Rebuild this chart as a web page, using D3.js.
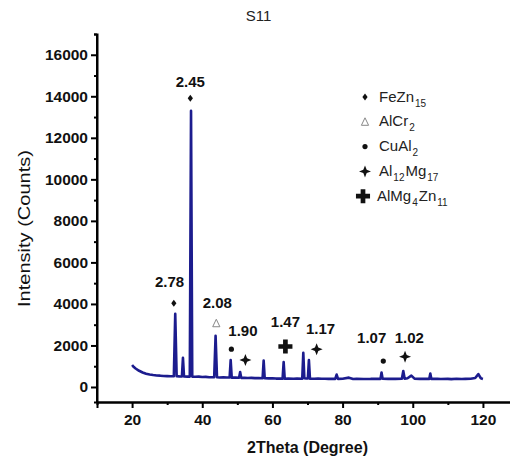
<!DOCTYPE html>
<html lang="en">
<head>
<meta charset="utf-8">
<title>S11</title>
<script src="https://cdn.jsdelivr.net/npm/d3@7"></script>
<style>
  body { margin: 0; background: #fff; }
  text { font-family: "Liberation Sans", Arial, sans-serif; }
</style>
</head>
<body>
<script type="text/javascript">

var width = 510;
var height = 459;

// diffraction pattern
var twoTheta = [20, 20.5, 21, 22, 23, 24, 25, 26, 27, 28, 29, 30, 31, 31.9, 32.3, 32.7,
  33.5, 34.2, 34.5, 34.8, 35.8, 36.45, 36.8, 37.15, 38, 39, 40, 41, 42, 43.4, 43.8, 44.2,
  45, 46, 47, 47.8, 48.1, 48.4, 49.5, 50.5, 50.8, 51.1, 52, 53, 54, 55, 56, 57.2, 57.5, 57.8,
  59, 60, 61, 62.9, 63.2, 63.5, 64.5, 66, 67, 68.5, 68.8, 69.1, 69.6, 70.1, 70.4, 70.7,
  72, 73, 74, 75, 76, 77.9, 78.3, 78.7, 80, 81.8, 83, 84, 86, 88, 89.5, 90.8, 91.1, 91.4,
  93, 94, 95, 96.9, 97.3, 97.7, 98.5, 99.6, 100.5, 102, 103.5, 104.7, 105, 105.3, 107, 108,
  110, 111, 112.5, 114, 115, 116.5, 117.8, 118.7, 119.4, 120];
var intensity = [1060, 960, 890, 780, 700, 640, 600, 575, 555, 545, 530, 525, 520, 520, 3520, 520,
  510, 505, 1410, 505, 500, 500, 13300, 500, 490, 500, 480, 485, 470, 470, 2470, 470,
  460, 470, 455, 455, 1300, 450, 450, 445, 720, 440, 445, 430, 440, 425, 430, 420, 1270, 420,
  415, 420, 405, 405, 1200, 400, 410, 400, 405, 400, 1650, 420, 410, 410, 1300, 400,
  400, 410, 395, 400, 390, 390, 600, 390, 395, 450, 385, 395, 385, 390, 400, 390, 700, 395,
  390, 400, 390, 395, 770, 400, 420, 550, 400, 390, 400, 390, 650, 390, 395, 385,
  390, 380, 395, 385, 390, 400, 430, 620, 420, 390];

var yTicks = [0, 2000, 4000, 6000, 8000, 10000, 12000, 14000, 16000];
var xTicks = [20, 40, 60, 80, 100, 120];

// peak labels (d-spacing) and phase marks
var peakLabels = ["2.45", "2.78", "2.08", "1.90", "1.47", "1.17", "1.07", "1.02"];
var labelX = [36.6, 30.7, 44.3, 51.6, 63.7, 73.7, 88.3, 99.0];
var labelY = [14450, 4820, 3790, 2460, 2880, 2570, 2100, 2100];

var markPhase = ["FeZn", "FeZn", "AlCr", "CuAl", "AlMg", "AlMg4", "AlMg", "CuAl", "AlMg"];
var markX = [36.6, 31.9, 44.0, 48.3, 52.3, 63.7, 72.6, 91.6, 97.8];
var markY = [13900, 4030, 3070, 1820, 1300, 1950, 1820, 1250, 1460];

var legendPhase = ["FeZn", "AlCr", "CuAl", "AlMg", "AlMg4"];
var legendName = [["FeZn", "15"], ["AlCr", "2"], ["CuAl", "2"], ["Al", "12", "Mg", "17"], ["AlMg", "4", "Zn", "11"]];

var svg = d3.select("body").append("svg")
            .attr("width", width)
            .attr("height", height);

var x = d3.scaleLinear().domain([10, 128]).range([97, 511]);
var y = d3.scaleLinear().domain([-723, 17000]).range([402, 34]);

// axes
var yAxis = svg.append("g")
  .attr("transform", "translate(" + x(10) + ",0)")
  .call(d3.axisLeft(y).tickValues(yTicks).tickSize(6).tickPadding(3).tickFormat(d3.format("d")));
svg.append("g")
  .attr("transform", "translate(" + x(10) + ",0)")
  .call(d3.axisLeft(y).tickValues(d3.range(1000, 17001, 2000)).tickSize(3).tickFormat(""));

var xAxis = svg.append("g")
  .attr("transform", "translate(0," + y(-723) + ")")
  .call(d3.axisBottom(x).tickValues(xTicks).tickSize(6).tickPadding(6));
svg.append("g")
  .attr("transform", "translate(0," + y(-723) + ")")
  .call(d3.axisBottom(x).tickValues([30, 50, 70, 90, 110]).tickSize(3).tickFormat(""));

svg.selectAll(".domain").attr("stroke", "#000").attr("stroke-width", 2);
svg.selectAll(".tick line").attr("stroke", "#000").attr("stroke-width", 2);
svg.selectAll(".tick text")
   .attr("font-family", "Liberation Sans, Arial, sans-serif")
   .attr("font-size", 15.5)
   .attr("font-weight", "bold")
   .attr("fill", "#111");
yAxis.select(".domain").attr("d", "M0," + y(17000) + "V" + y(-723));

// pattern
var line = d3.line()
  .x(function(d, i) { return x(twoTheta[i]); })
  .y(function(d) { return y(d); });

svg.append("path")
   .attr("d", line(intensity))
   .attr("fill", "none")
   .attr("stroke", "#1c1c8e")
   .attr("stroke-width", 2.6)
   .attr("stroke-linejoin", "round");

// symbols
function star4(r) {
  var k = r * 0.28;
  return "M0," + (-r) + "L" + k + "," + (-k) + "L" + r + ",0L" + k + "," + k +
         "L0," + r + "L" + (-k) + "," + k + "L" + (-r) + ",0L" + (-k) + "," + (-k) + "Z";
}
function drawMark(g, phase) {
  if (phase == "FeZn") {
    g.append("path").attr("d", "M0,-3.5L2.6,0L0,3.5L-2.6,0Z").attr("fill", "#111");
  } else if (phase == "AlCr") {
    g.append("path").attr("d", "M0,-4L3.6,3.5L-3.6,3.5Z").attr("fill", "none")
     .attr("stroke", "#888").attr("stroke-width", 1);
  } else if (phase == "CuAl") {
    g.append("circle").attr("r", 2.6).attr("fill", "#111");
  } else if (phase == "AlMg") {
    g.append("path").attr("d", star4(6)).attr("fill", "#111");
  } else {
    g.append("path").attr("d", d3.symbol().type(d3.symbolCross).size(110)()).attr("fill", "#111");
  }
}

markPhase.forEach(function(p, i) {
  var g = svg.append("g").attr("transform", "translate(" + x(markX[i]) + "," + y(markY[i]) + ")");
  drawMark(g, p);
});

svg.selectAll(".peak")
   .data(peakLabels)
   .enter()
   .append("text")
   .attr("class", "peak")
   .attr("x", function(d, i) { return x(labelX[i]); })
   .attr("y", function(d, i) { return y(labelY[i]); })
   .attr("text-anchor", "middle")
   .attr("font-size", 15)
   .attr("font-weight", "bold")
   .attr("fill", "#111")
   .text(function(d) { return d; });

// legend
var legendTop = 97;
legendPhase.forEach(function(p, i) {
  var cy = legendTop + i * 24.8;
  var g = svg.append("g").attr("transform", "translate(" + (p == "AlMg4" ? 363 : 365) + "," + cy + ")");
  drawMark(g, p);
  var t = svg.append("text")
    .attr("x", p == "AlMg4" ? 377 : 379)
    .attr("y", cy + 4.5)
    .attr("font-size", 15)
    .attr("fill", "#222");
  legendName[i].forEach(function(s, j) {
    var sp = t.append("tspan").text(s);
    if (j % 2 == 1) sp.attr("font-size", 10).attr("dy", 5).attr("dx", 1);
    else if (j > 0) sp.attr("dy", -5).attr("dx", 1);
  });
});

// titles
svg.append("text")
   .attr("x", 258.5).attr("y", 21)
   .attr("text-anchor", "middle")
   .attr("font-size", 15)
   .attr("fill", "#222")
   .text("S11");

svg.append("text")
   .attr("x", 307.5).attr("y", 453)
   .attr("text-anchor", "middle")
   .attr("font-size", 16)
   .attr("font-weight", "bold")
   .attr("fill", "#111")
   .text("2Theta (Degree)");

svg.append("text")
   .attr("transform", "translate(30,228.5) rotate(-90)")
   .attr("text-anchor", "middle")
   .attr("font-size", 16)
   .attr("fill", "#111")
   .attr("textLength", 157)
   .attr("lengthAdjust", "spacingAndGlyphs")
   .text("Intensity (Counts)");

</script>
</body>
</html>
